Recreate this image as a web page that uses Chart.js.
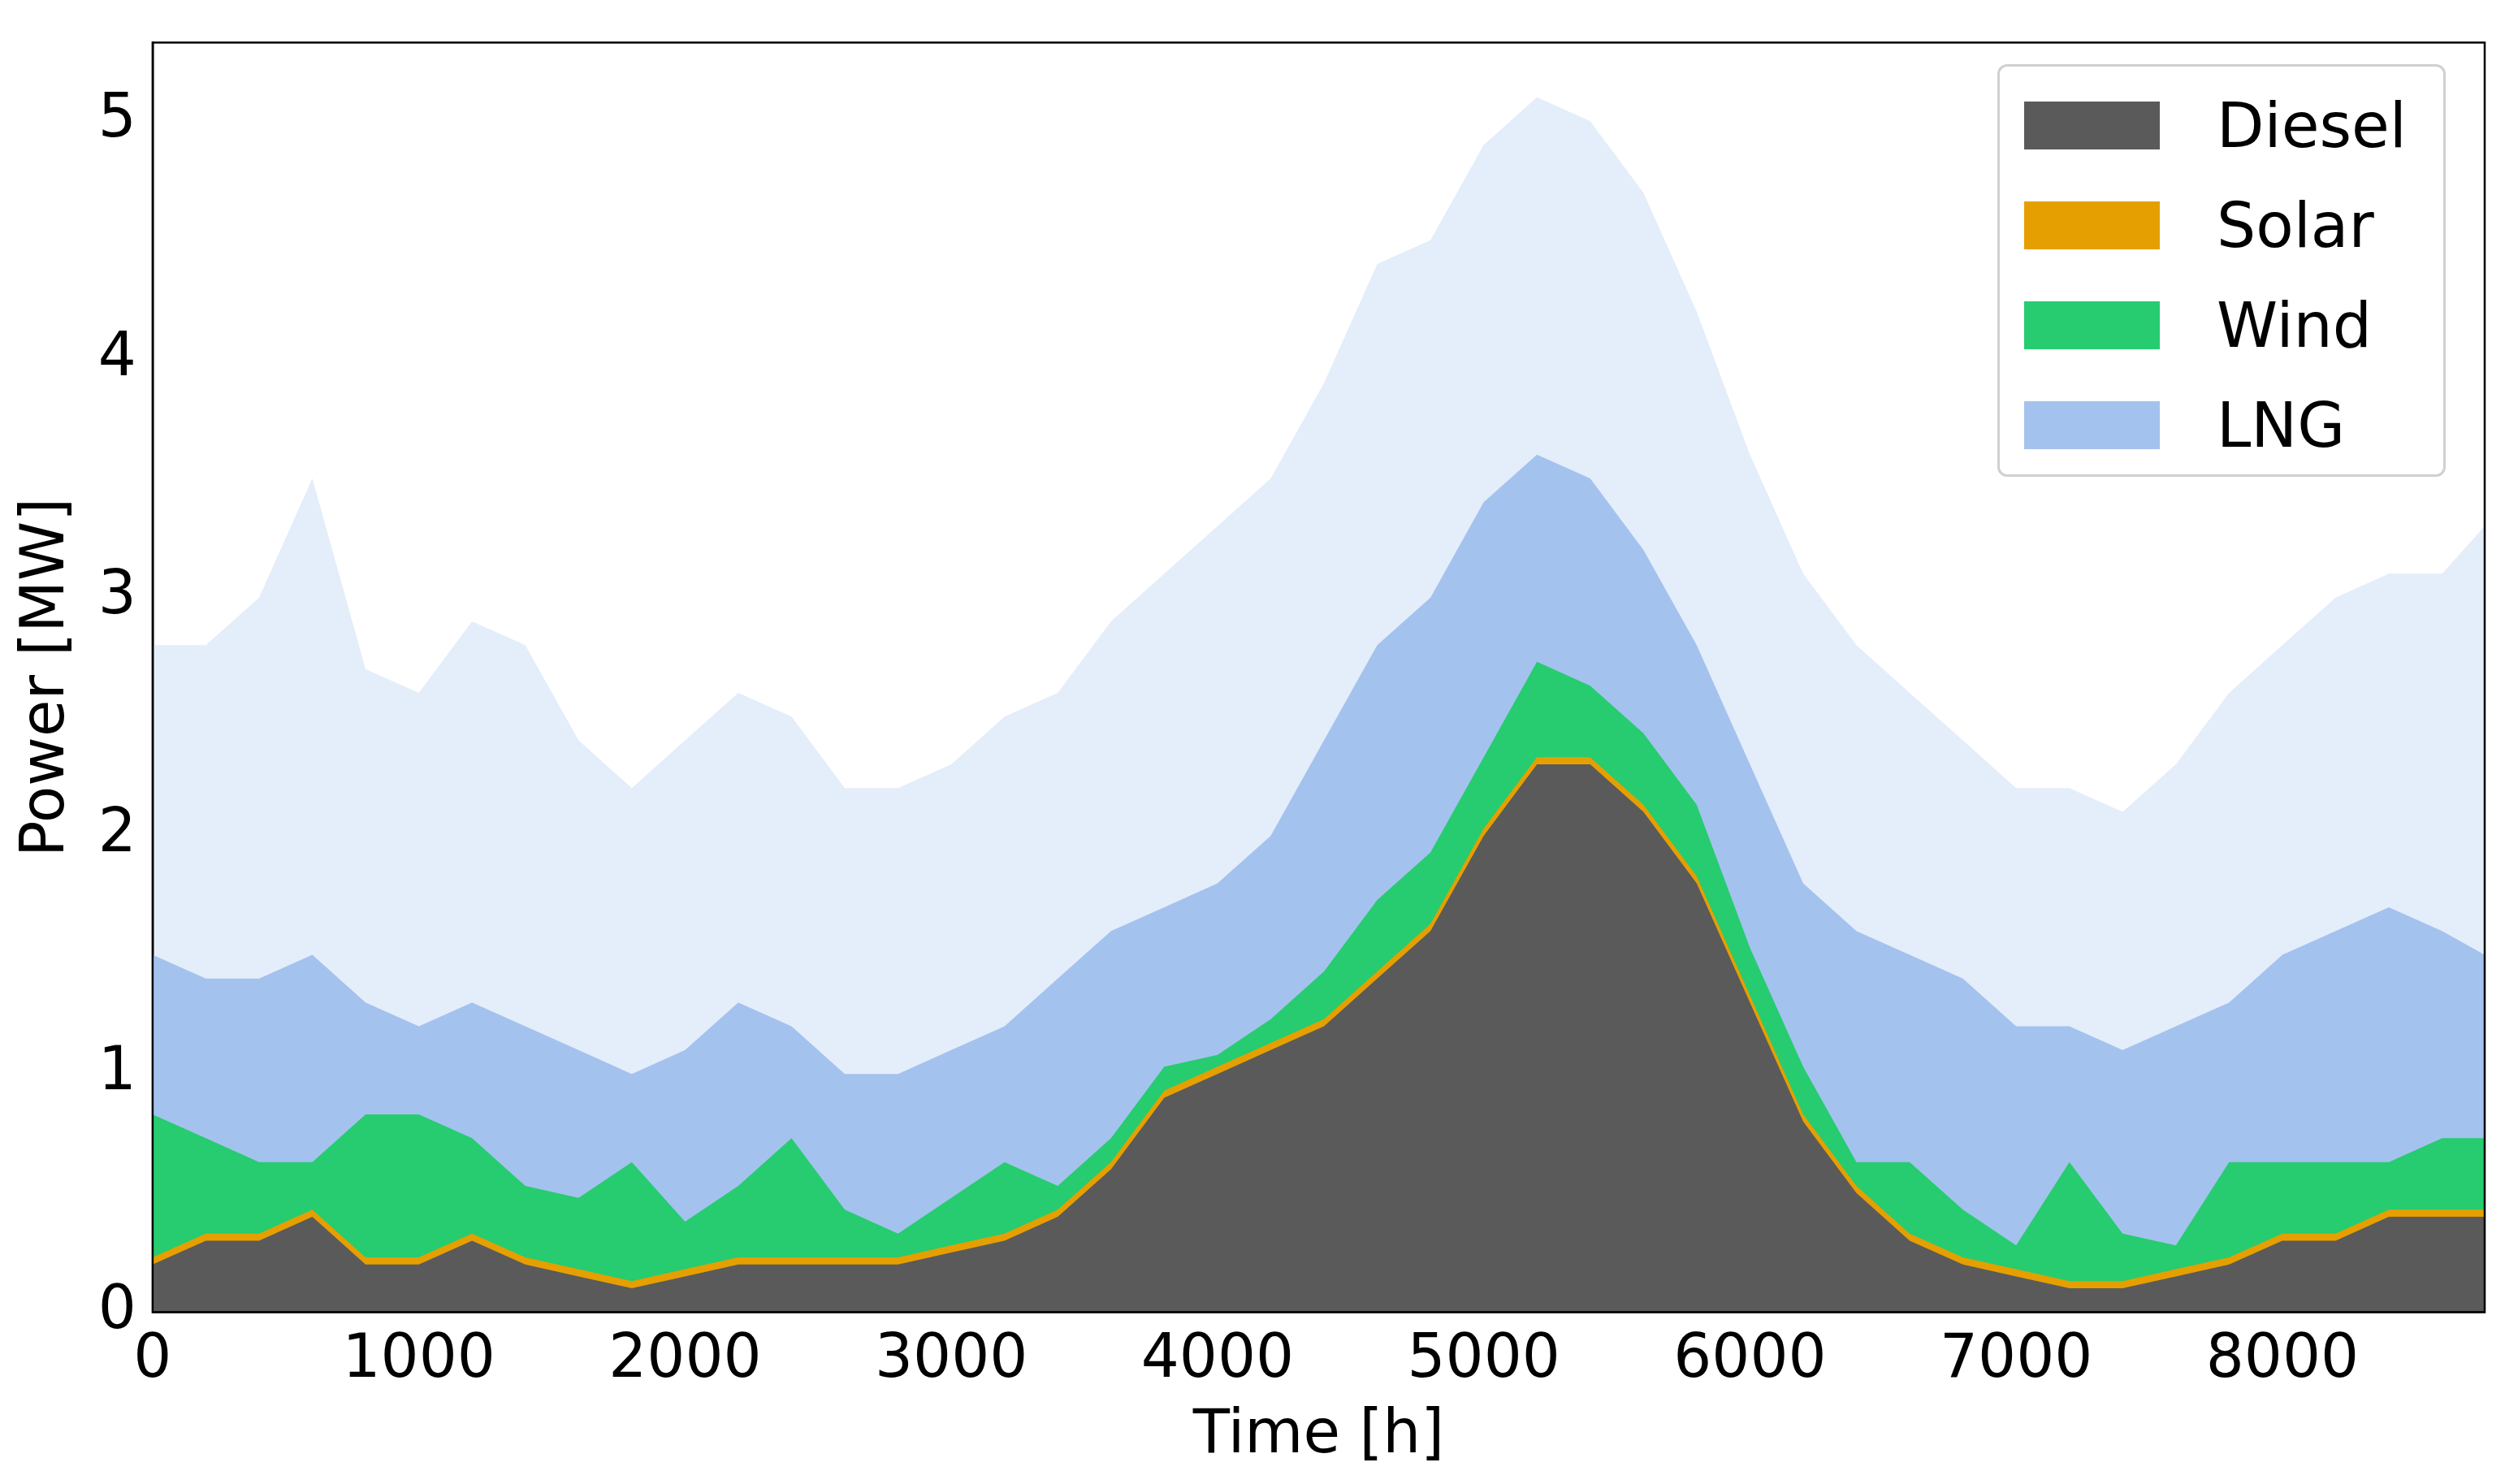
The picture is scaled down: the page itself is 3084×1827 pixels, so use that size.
<!DOCTYPE html>
<html>
<head>
<meta charset="utf-8">
<script src="https://cdn.jsdelivr.net/npm/chart.js@4.4.1/dist/chart.umd.min.js"></script>
<style>
  html, body { margin: 0; padding: 0; background: #fff; }
  #wrap { position: relative; width: 3084px; height: 1827px; }
  #legend {
    position: absolute; left: 2459px; top: 79px; width: 552px; height: 508px;
    border: 3px solid #d0d0d0; border-radius: 12px; background: rgba(255,255,255,0.85);
    font-family: 'DejaVu Sans', sans-serif; font-size: 76px; color: #000; box-sizing: border-box;
  }
  .item { position: absolute; left: 30px; display: flex; align-items: center; }
  .sw { width: 167px; height: 59px; margin-right: 70px; }
</style>
</head>
<body>
<div id="wrap">
  <canvas id="powerChart" width="3084" height="1827"></canvas>
  <div id="legend"></div>
</div>
<script>
const hours = [0,200,400,600,800,1000,1200,1400,1600,1800,2000,2200,2400,2600,2800,3000,3200,3400,3600,3800,
  4000,4200,4400,4600,4800,5000,5200,5400,5600,5800,6000,6200,6400,6600,6800,7000,7200,7400,7600,7800,
  8000,8200,8400,8600,8760];
const dieselTop = [0.2,0.3,0.3,0.4,0.2,0.2,0.3,0.2,0.15,0.1,0.15,0.2,0.2,0.2,0.2,0.25,0.3,0.4,0.6,0.9,
  1.0,1.1,1.2,1.4,1.6,2.0,2.3,2.3,2.1,1.8,1.3,0.8,0.5,0.3,0.2,0.15,0.1,0.1,0.15,0.2,
  0.3,0.3,0.4,0.4,0.4];
const solarTop = [0.23,0.33,0.33,0.43,0.23,0.23,0.33,0.23,0.18,0.13,0.18,0.23,0.23,0.23,0.23,0.28,0.33,0.43,0.63,0.93,
  1.03,1.13,1.23,1.43,1.63,2.03,2.33,2.33,2.13,1.83,1.33,0.83,0.53,0.33,0.23,0.18,0.13,0.13,0.18,0.23,
  0.33,0.33,0.43,0.43,0.43];
const windTop = [0.83,0.73,0.63,0.63,0.83,0.83,0.73,0.53,0.48,0.63,0.38,0.53,0.73,0.43,0.33,0.48,0.63,0.53,0.73,1.03,
  1.08,1.23,1.43,1.73,1.93,2.33,2.73,2.63,2.43,2.13,1.53,1.03,0.63,0.63,0.43,0.28,0.63,0.33,0.28,0.63,
  0.63,0.63,0.63,0.73,0.73];
const lngTop = [1.5,1.4,1.4,1.5,1.3,1.2,1.3,1.2,1.1,1.0,1.1,1.3,1.2,1.0,1.0,1.1,1.2,1.4,1.6,1.7,
  1.8,2.0,2.4,2.8,3.0,3.4,3.6,3.5,3.2,2.8,2.3,1.8,1.6,1.5,1.4,1.2,1.2,1.1,1.2,1.3,
  1.5,1.6,1.7,1.6,1.5];
const lngPeakTop = [2.8,2.8,3.0,3.5,2.7,2.6,2.9,2.8,2.4,2.2,2.4,2.6,2.5,2.2,2.2,2.3,2.5,2.6,2.9,3.1,
  3.3,3.5,3.9,4.4,4.5,4.9,5.1,5.0,4.7,4.2,3.6,3.1,2.8,2.6,2.4,2.2,2.2,2.1,2.3,2.6,
  2.8,3.0,3.1,3.1,3.3];
const seriesNames = ['Diesel', 'Solar', 'Wind', 'LNG'];
const seriesColors = ['#5a5a5a', '#e69f00', '#26cc6f', '#a4c2ee'];
const xTicks = [0,1000,2000,3000,4000,5000,6000,7000,8000];

const pts = arr => arr.map((v, i) => ({ x: hours[i], y: v }));
const layer = (label, arr, color) => ({
  label, data: pts(arr), backgroundColor: color, borderWidth: 0,
  pointRadius: 0, fill: 'origin', tension: 0
});

// Chart.js paints the first dataset last, so the lowest layer goes first
const datasets = [
  layer('Diesel', dieselTop, seriesColors[0]),
  layer('Solar', solarTop, seriesColors[1]),
  layer('Wind', windTop, seriesColors[2]),
  layer('LNG', lngTop, seriesColors[3]),
  layer('LNG peaks', lngPeakTop, 'rgba(164,194,238,0.3)')
];

const frame = {
  id: 'frame',
  afterDraw(chart) {
    const { ctx, chartArea: a } = chart;
    ctx.save();
    ctx.strokeStyle = '#000';
    ctx.lineWidth = 2.5;
    ctx.strokeRect(a.left, a.top, a.right - a.left, a.bottom - a.top);
    ctx.restore();
  }
};

const font = { family: "'DejaVu Sans', sans-serif", size: 74 };

new Chart(document.getElementById('powerChart'), {
  type: 'line',
  data: { datasets },
  options: {
    responsive: false, animation: false,
    layout: { padding: { left: 10, right: 25, top: 35, bottom: 10 } },
    plugins: { legend: { display: false }, tooltip: { enabled: false } },
    scales: {
      x: {
        type: 'linear', min: 0, max: 8760,
        afterBuildTicks: ax => { ax.ticks = xTicks.map(v => ({ value: v })); },
        grid: { display: false, tickLength: 12 },
        border: { color: '#000', width: 2.5 },
        ticks: { font, color: '#000', padding: 4, maxRotation: 0, callback: v => String(v) },
        title: { display: true, text: 'Time [h]', font, color: '#000', padding: { top: 0 } }
      },
      y: {
        min: 0, max: 5.33,
        afterBuildTicks: ax => { ax.ticks = [0,1,2,3,4,5].map(v => ({ value: v })); },
        grid: { display: false, tickLength: 12 },
        border: { color: '#000', width: 2.5 },
        ticks: { font, color: '#000', padding: 8, callback: v => String(v) },
        title: { display: true, text: 'Power [MW]', font, color: '#000', padding: { bottom: 10 } }
      }
    }
  },
  plugins: [frame]
});

const legend = document.getElementById('legend');
seriesNames.forEach((name, i) => {
  const d = document.createElement('div');
  d.className = 'item';
  d.style.top = (28 + i * 123) + 'px';
  d.innerHTML = '<div class="sw" style="background:' + seriesColors[i] + '"></div>' + name;
  legend.appendChild(d);
});
</script>
</body>
</html>
